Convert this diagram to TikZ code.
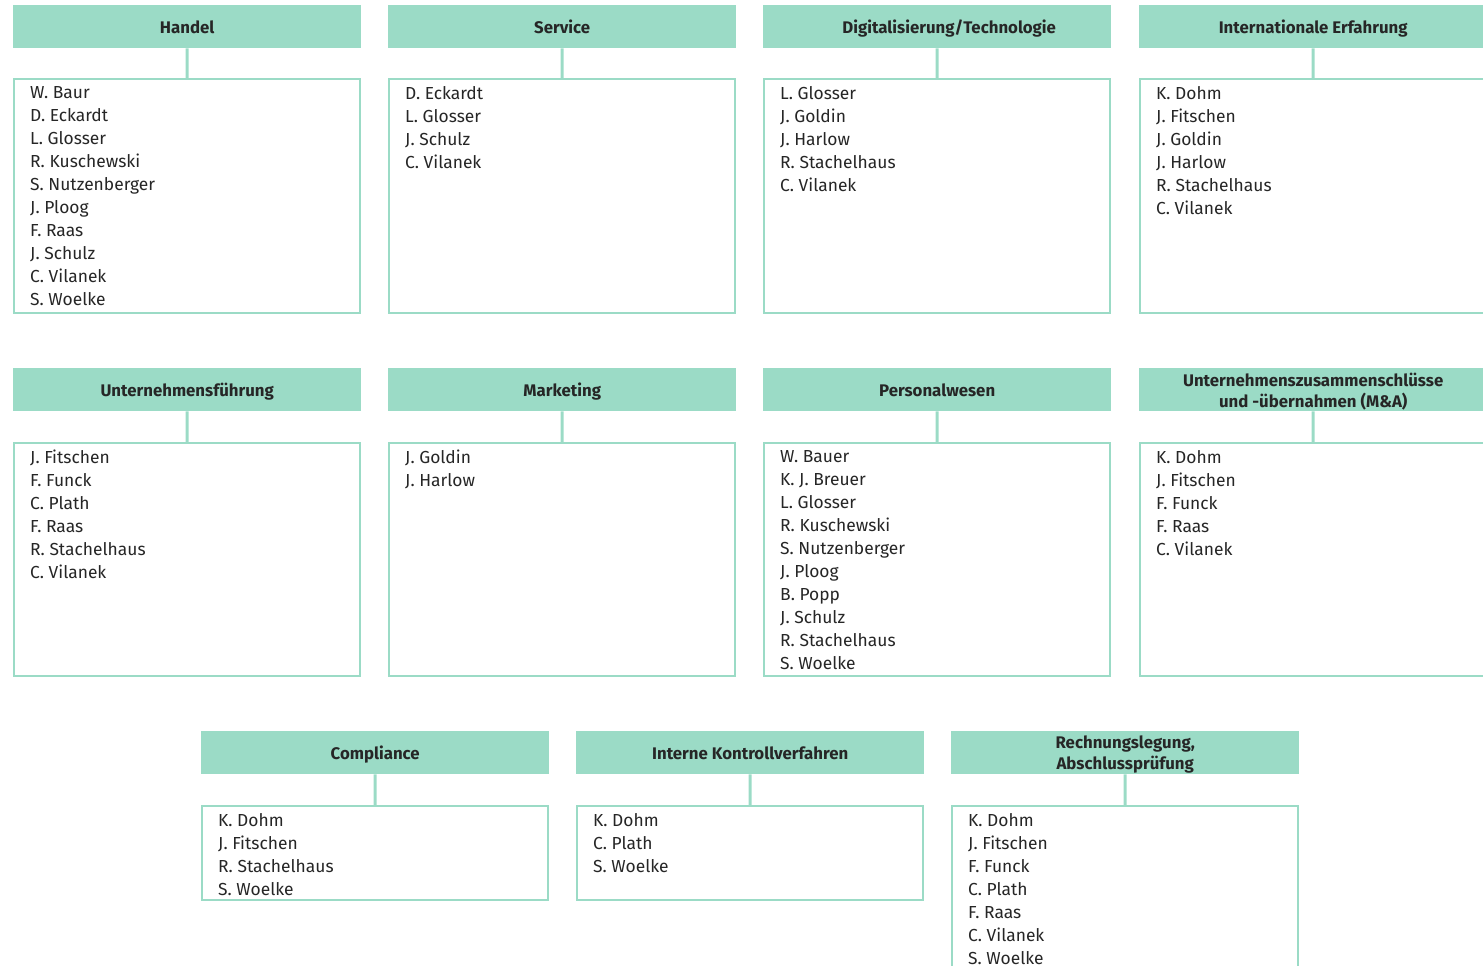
\documentclass[tikz,border=0pt]{standalone}
\usepackage{fontspec}
\setmainfont{Fira Sans}
\usetikzlibrary{calc}
\definecolor{mint}{HTML}{9BDBC6}
\definecolor{ink}{HTML}{262626}
\tikzset{
  hdr/.style={fill=mint, draw=none, inner sep=0pt, minimum width=348pt, minimum height=43pt,
    align=center, text=ink, font={\fontsize{16.8}{21}\selectfont\bfseries}},
  lst/.style={draw=mint, line width=2pt, fill=white, inner sep=0pt, minimum width=346pt},
  names/.style={inner sep=0pt, align=left, text=ink, font={\fontsize{17.4}{23}\selectfont}},
  conn/.style={draw=mint, line width=3pt}
}
\newcommand{\hdrtext}[1]{\rule{0pt}{17pt}#1\rule[-3pt]{0pt}{3pt}}
% #1 id, #2 left x, #3 header top y, #4 gap header->box, #5 box height, #6 header, #7 names
\newcommand{\orgpanel}[7]{%
  \node[hdr, anchor=north west] (h#1) at (#2,#3) {\hdrtext{#6}};
  \node[lst, anchor=north west, minimum height=#5] (b#1) at ($(#2,#3)+(0,#4)$) {};
  \node[names, anchor=north west] (n#1) at ($(b#1.north west)+(17,8)$) {\rule{0pt}{12pt}#7};
  \draw[conn] (h#1.south) -- (b#1.north);
}
\begin{document}
\begin{tikzpicture}[x=1pt, y=-1pt]
\useasboundingbox (0,0) rectangle (1483,966);
\orgpanel{a}{13}{5}{73}{234pt}{Handel}{W. Baur\\D. Eckardt\\L. Glosser\\R. Kuschewski\\S. Nutzenberger\\J. Ploog\\F. Raas\\J. Schulz\\C. Vilanek\\S. Woelke}
\orgpanel{b}{388}{5}{73}{234pt}{Service}{D. Eckardt\\L. Glosser\\J. Schulz\\C. Vilanek}
\orgpanel{c}{763}{5}{73}{234pt}{\hspace*{24pt}Digitalisierung/Technologie}{L. Glosser\\J. Goldin\\J. Harlow\\R. Stachelhaus\\C. Vilanek}
\orgpanel{d}{1139}{5}{73}{234pt}{Internationale Erfahrung}{K. Dohm\\J. Fitschen\\J. Goldin\\J. Harlow\\R. Stachelhaus\\C. Vilanek}
\orgpanel{e}{13}{368}{74}{233pt}{Unternehmensführung}{J. Fitschen\\F. Funck\\C. Plath\\F. Raas\\R. Stachelhaus\\C. Vilanek}
\orgpanel{f}{388}{368}{74}{233pt}{Marketing}{J. Goldin\\J. Harlow}
\orgpanel{g}{763}{368}{74}{233pt}{Personalwesen}{W. Bauer\\K. J. Breuer\\L. Glosser\\R. Kuschewski\\S. Nutzenberger\\J. Ploog\\B. Popp\\J. Schulz\\R. Stachelhaus\\S. Woelke}
\orgpanel{h}{1139}{368}{74}{233pt}{Unternehmenszusammenschlüsse\\und -übernahmen (M\&A)}{K. Dohm\\J. Fitschen\\F. Funck\\F. Raas\\C. Vilanek}
\orgpanel{i}{201}{731}{74}{94pt}{Compliance}{K. Dohm\\J. Fitschen\\R. Stachelhaus\\S. Woelke}
\orgpanel{j}{576}{731}{74}{94pt}{Interne Kontrollverfahren}{K. Dohm\\C. Plath\\S. Woelke}
\orgpanel{k}{951}{731}{74}{200pt}{Rechnungslegung,\\Abschlussprüfung}{K. Dohm\\J. Fitschen\\F. Funck\\C. Plath\\F. Raas\\C. Vilanek\\S. Woelke}
\end{tikzpicture}
\end{document}
